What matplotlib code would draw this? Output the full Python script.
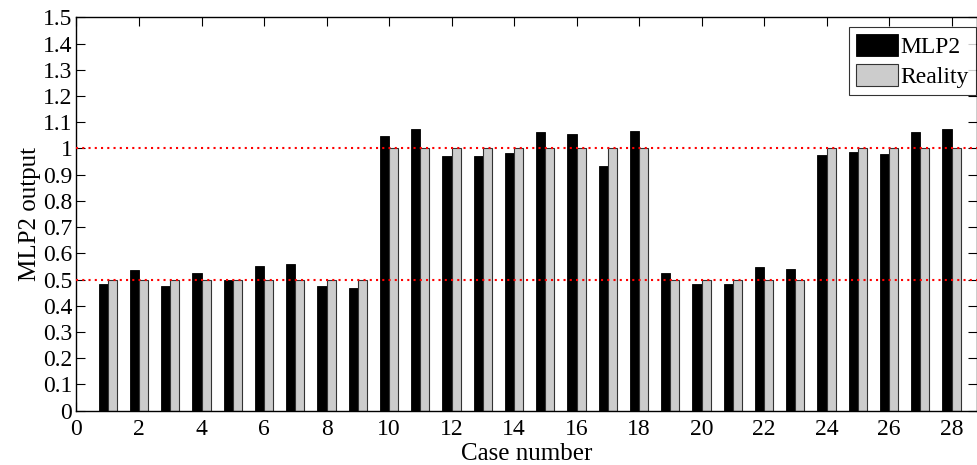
import numpy as np
import matplotlib
matplotlib.use("Agg")
import matplotlib.pyplot as plt

cases = list(range(1, 29))
mlp2 = [0.482, 0.536, 0.475, 0.525, 0.497, 0.550, 0.558, 0.475, 0.469, 1.048,
        1.074, 0.971, 0.971, 0.984, 1.063, 1.055, 0.933, 1.066, 0.525, 0.484,
        0.484, 0.548, 0.540, 0.976, 0.986, 0.979, 1.063, 1.074]
reality = [0.5]*9 + [1.0]*9 + [0.5]*5 + [1.0]*5
ref_lines = [0.5, 1.0]
xticks = list(range(0, 29, 2))
yticks = [round(0.1*i, 1) for i in range(16)]
ytick_labels = ["0" if v == 0 else ("1" if v == 1 else f"{v:g}") for v in yticks]

plt.rcParams['font.family'] = ['Liberation Serif', 'DejaVu Serif']

fig = plt.figure(figsize=(9.77, 4.65), dpi=100)
ax = fig.add_axes([0.0783, 0.1168, 0.9995 - 0.0783, 0.9628 - 0.1168])

x = np.array(cases)
w = 0.29
ax.bar(x - w/2, mlp2, width=w, color='black', edgecolor='black', linewidth=0.6, label='MLP2', zorder=2)
ax.bar(x + w/2, reality, width=w, color='#cccccc', edgecolor='#333333', linewidth=0.8, label='Reality', zorder=2)

for v in ref_lines:
    ax.axhline(v, color='red', linestyle=(0, (1, 2)), linewidth=1.5, zorder=3)

ax.set_xlim(0, 28.8)
ax.set_ylim(0, 1.5)
ax.set_xticks(xticks)
ax.set_yticks(yticks)
ax.set_yticklabels(ytick_labels)
ax.tick_params(direction='in', top=True, right=True, length=6.5, width=0.8, labelsize=17)
ax.tick_params(axis='x', pad=6)
ax.tick_params(axis='y', pad=3)
for s in ax.spines.values():
    s.set_linewidth(1.0)

ax.set_xlabel('Case number', fontsize=18, labelpad=2)
ax.set_ylabel('MLP2 output', fontsize=18, labelpad=1)

leg = ax.legend(loc='upper right', bbox_to_anchor=(0.9995, 0.975), borderaxespad=0,
                fontsize=17, frameon=True, fancybox=False, edgecolor='black',
                handlelength=1.8, handleheight=1.05, handletextpad=0.1,
                borderpad=0.3, labelspacing=0.25)
leg.get_frame().set_linewidth(0.8)

fig.savefig('out.png', dpi=100)
